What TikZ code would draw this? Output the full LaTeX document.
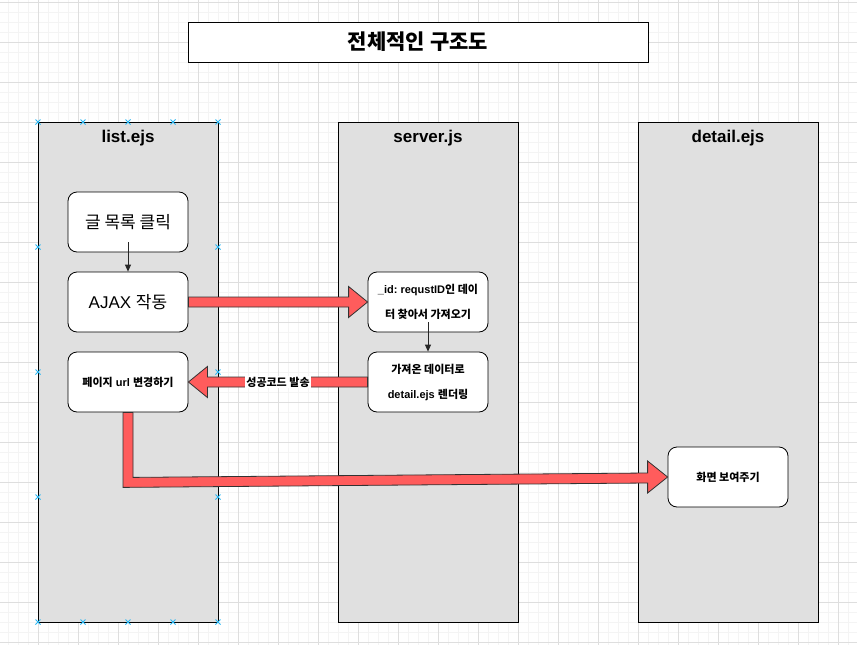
\documentclass[tikz,border=0pt]{standalone}
\usepackage{fontspec}
\setmainfont{Liberation Sans}
\newfontfamily\cjk{Noto Sans CJK KR}
\usetikzlibrary{calc,arrows.meta}
\frenchspacing
\definecolor{lanegray}{HTML}{E0E0E0}
\definecolor{minorgrid}{HTML}{F4F4F4}
\definecolor{majorgrid}{HTML}{DEDEDE}
\definecolor{flexred}{HTML}{FF5C5C}
\definecolor{selblue}{HTML}{29B6F2}
\tikzset{
  lanebox/.style={draw=black, line width=1pt, fill=lanegray, minimum width=180pt, minimum height=500pt, inner sep=0pt},
  lanehead/.style={font=\fontsize{17}{20}\selectfont\bfseries, inner sep=0pt},
  stepbox/.style={draw=black, line width=0.8pt, fill=white, rounded corners=9pt, minimum width=120pt, minimum height=60pt, inner sep=0pt, align=center},
  bigtext/.style={font=\fontsize{17}{20}\selectfont},
  smalltext/.style={font=\fontsize{11}{25}\selectfont\bfseries},
  flex/.style={draw=black!80, line width=0.8pt, fill=flexred, line join=miter},
  thinarrow/.style={draw=black!85, line width=0.8pt, -{Triangle[length=7pt,width=6pt]}},
  xmark/.style={draw=selblue, line width=0.8pt},
}
\begin{document}
\begin{tikzpicture}[x=1pt,y=-1pt]
\useasboundingbox (0,0) rectangle (857,645);
% grid
\foreach \gx in {8,18,...,858} \draw[minorgrid, line width=0.6pt] (\gx,0) -- (\gx,645);
\foreach \gy in {2,12,...,645} \draw[minorgrid, line width=0.6pt] (0,\gy) -- (857,\gy);
\foreach \gx in {38,78,...,858} \draw[majorgrid, line width=0.6pt] (\gx,0) -- (\gx,645);
\foreach \gy in {2,42,...,645} \draw[majorgrid, line width=0.6pt] (0,\gy) -- (857,\gy);

% title
\node[draw=black, line width=1pt, fill=white, minimum width=460pt, minimum height=40pt, inner sep=0pt,
      font=\fontsize{21}{24}\selectfont\bfseries] (title) at (418,42) {\cjk 전체적인 구조도};

% lanes
\node[lanebox] (listlane) at (128,372) {};
\node[lanebox] (serverlane) at (428,372) {};
\node[lanebox] (detaillane) at (728,372) {};
\node[lanehead] (listhead) at (128,138) {list.ejs};
\node[lanehead] (serverhead) at (428,138) {server.js};
\node[lanehead] (detailhead) at (728,138) {detail.ejs};

% selection marks on list lane
\foreach \mx/\my in {38/122,83/122,128/122,173/122,218/122,38/622,83/622,128/622,173/622,218/622,38/247,38/372,38/497,218/247,218/372,218/497}
  \draw[xmark] (\mx-2.5,\my-2.5) -- (\mx+2.5,\my+2.5) (\mx-2.5,\my+2.5) -- (\mx+2.5,\my-2.5);

% steps
\node[stepbox, bigtext] (click) at (128,222) {\cjk 글 목록 클릭};
\node[stepbox, bigtext] (ajax) at (128,302) {AJAX {\cjk 작동}};
\node[stepbox, smalltext] (page) at (128,382) {{\cjk 페이지} url {\cjk 변경하기}};
\node[stepbox, smalltext] (fetch) at (428,302) {\_id: requstID{\cjk 인 데이}\\{\cjk 터 찾아서 가져오기}};
\node[stepbox, smalltext] (render) at (428,382) {{\cjk 가져온 데이터로}\\detail.ejs {\cjk 렌더링}};
\node[stepbox, smalltext] (show) at (728,477) {\cjk 화면 보여주기};

% thin arrows
\draw[thinarrow] ($(click.south)+(0,-10)$) -- (ajax.north);
\draw[thinarrow] ($(fetch.south)+(0,-10)$) -- (render.north);

% flex arrow: ajax -> fetch
\draw[flex] ($(ajax.east)+(0,-5)$) -- ($(fetch.west)+(-19,-5)$) -- ($(fetch.west)+(-19,-15.5)$)
  -- (fetch.west) -- ($(fetch.west)+(-19,15.5)$) -- ($(fetch.west)+(-19,5)$) -- ($(ajax.east)+(0,5)$) -- cycle;

% flex arrow: render -> page
\draw[flex] ($(render.west)+(0,-5)$) -- ($(page.east)+(19,-5)$) -- ($(page.east)+(19,-15.5)$)
  -- (page.east) -- ($(page.east)+(19,15.5)$) -- ($(page.east)+(19,5)$) -- ($(render.west)+(0,5)$) -- cycle;
\node[fill=white, inner sep=1pt, font=\fontsize{11}{13}\selectfont\bfseries] (ok) at ($(page.east)!0.5!(render.west)$) {\cjk 성공코드 발송};

% flex arrow: page -> show (bent)
\draw[flex] ($(page.south)+(-5,0)$) -- ($(page.south)+(-5,75)$) -- ($(show.west)+(-20,6)$)
  -- ($(show.west)+(-20,16)$) -- (show.west) -- ($(show.west)+(-20,-16)$) -- ($(show.west)+(-20,-4)$)
  -- ($(page.south)+(5,65)$) -- ($(page.south)+(5,0)$) -- cycle;
\end{tikzpicture}
\end{document}
